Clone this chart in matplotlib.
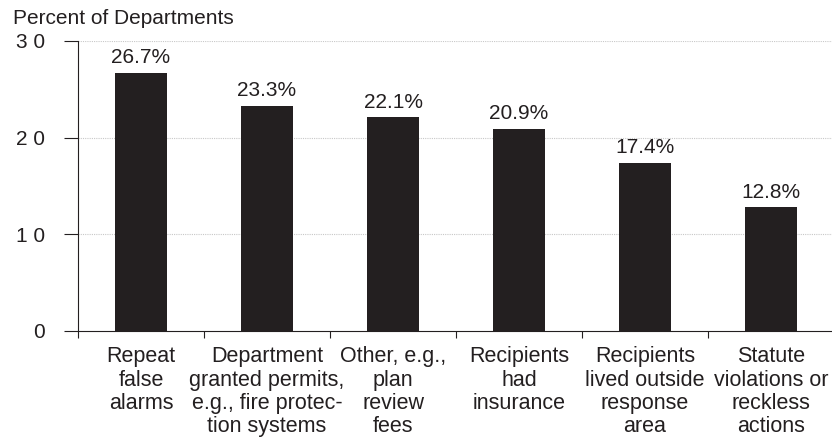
import matplotlib.pyplot as plt
import numpy as np

plt.rcParams['font.family'] = ['Liberation Sans', 'DejaVu Sans']

categories = [
    "Repeat\nfalse\nalarms",
    "Department\ngranted permits,\ne.g., fire protec-\ntion systems",
    "Other, e.g.,\nplan\nreview\nfees",
    "Recipients\nhad\ninsurance",
    "Recipients\nlived outside\nresponse\narea",
    "Statute\nviolations or\nreckless\nactions",
]
values = [26.7, 23.3, 22.1, 20.9, 17.4, 12.8]
ytick_values = [0, 10, 20, 30]
ytick_labels = ["0", "1 0", "2 0", "3 0"]

ink = "#231f20"

fig = plt.figure(figsize=(8.32, 4.45), dpi=100)
ax = fig.add_axes([0.09375, 0.2562, 0.9087, 0.6517])

x = np.arange(len(values))
bars = ax.bar(x, values, width=0.41, color=ink, zorder=3)

for xi, v in zip(x, values):
    ax.annotate(f"{v:.1f}%", (xi, v), xytext=(0, 4), textcoords="offset points",
                ha="center", va="bottom", fontsize=15, color=ink)

ax.set_xlim(-0.5, len(values) - 0.5)
ax.set_ylim(0, 30)

ax.set_yticks(ytick_values)
ax.set_yticklabels(ytick_labels, fontsize=15, color=ink)
ax.tick_params(axis="y", length=10, width=0.8, color=ink, pad=14)

ax.set_xticks(x)
ax.set_xticklabels(categories, fontsize=15.5, color=ink, linespacing=1.15,
                   va="top", multialignment="center")
ax.tick_params(axis="x", which="major", length=0, pad=11)
ax.set_xticks(np.arange(len(values) + 1) - 0.5, minor=True)
ax.tick_params(axis="x", which="minor", length=5, width=0.8, color=ink)

for yv in ytick_values[1:]:
    ax.axhline(yv, color="#c8c8c8", lw=0.8, ls=(0, (1, 1)), zorder=1)

for side in ["top", "right"]:
    ax.spines[side].set_visible(False)
for side in ["left", "bottom"]:
    ax.spines[side].set_color(ink)
    ax.spines[side].set_linewidth(0.8)

fig.text(13 / 832, 1 - 18 / 445, "Percent of Departments", fontsize=15,
         color=ink, ha="left", va="center")

fig.savefig("out.png", dpi=100)
